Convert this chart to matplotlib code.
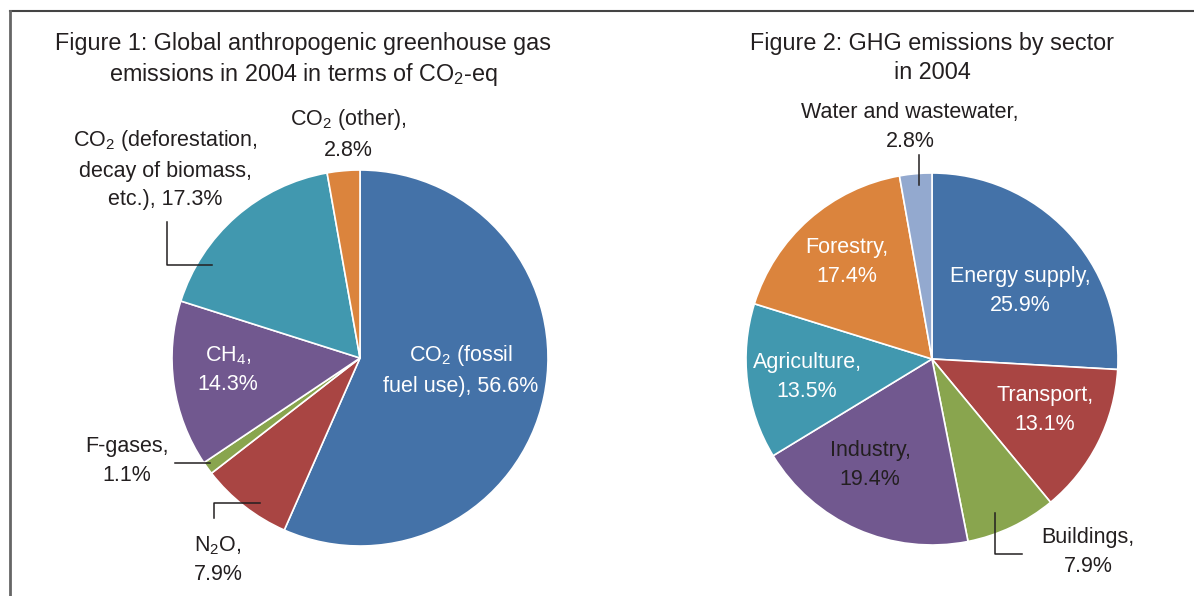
import matplotlib.pyplot as plt
from matplotlib.lines import Line2D

plt.rcParams["font.family"] = ["Liberation Sans", "DejaVu Sans"]
plt.rcParams["mathtext.fontset"] = "custom"
plt.rcParams["mathtext.rm"] = "Liberation Sans"
plt.rcParams["mathtext.default"] = "regular"

# Figure 1 data: gases
gas_names = ["CO$_2$ (fossil\nfuel use)", "N$_2$O", "F-gases", "CH$_4$",
             "CO$_2$ (deforestation,\ndecay of biomass,\netc.)", "CO$_2$ (other)"]
gas_values = [56.6, 7.9, 1.1, 14.3, 17.3, 2.8]
gas_colors = ["#4472a8", "#a94543", "#89a54e", "#71588f", "#4198af", "#db843d"]

# Figure 2 data: sectors
sector_names = ["Energy supply", "Transport", "Buildings", "Industry",
                "Agriculture", "Forestry", "Water and wastewater"]
sector_values = [25.9, 13.1, 7.9, 19.4, 13.5, 17.4, 2.8]
sector_colors = ["#4472a8", "#a94543", "#89a54e", "#71588f", "#4198af", "#db843d", "#93a9cf"]

W, H = 1194, 596
TXT = "#231f20"
FS = 15.5


def py(y):
    # pixel row (from top) -> data y
    return H - y


def label(ax, x, y, s, color=TXT, fs=FS, ls=1.45):
    ax.text(x, py(y), s, ha="center", va="center", fontsize=fs, color=color,
            linespacing=ls, multialignment="center")


def leader(ax, xs, ys):
    ax.add_line(Line2D(xs, [py(v) for v in ys], color="#231f20", lw=1.1))


def main():
    fig = plt.figure(figsize=(W / 100, H / 100), dpi=100)
    ax = fig.add_axes([0, 0, 1, 1])

    wp = dict(edgecolor="white", linewidth=1.2)
    ax.pie(gas_values, colors=gas_colors, startangle=90, counterclock=False,
           center=(360, py(358)), radius=188, wedgeprops=wp, frame=True)
    ax.pie(sector_values, colors=sector_colors, startangle=90, counterclock=False,
           center=(932, py(359)), radius=186, wedgeprops=wp, frame=True)

    ax.set_xlim(0, W)
    ax.set_ylim(0, H)
    ax.set_aspect("auto")
    ax.axis("off")

    # frame
    ax.add_line(Line2D([10, W], [py(11), py(11)], color="#444444", lw=1.5))
    ax.add_line(Line2D([10, 10], [py(11), 0], color="#666666", lw=2))

    # titles
    label(ax, 303, 60, "Figure 1: Global anthropogenic greenhouse gas\n"
                       "emissions in 2004 in terms of CO$_2$-eq", fs=16.8, ls=1.28)
    label(ax, 932, 58, "Figure 2: GHG emissions by sector\nin 2004", fs=16.8, ls=1.3)

    # figure 1 labels
    g = [f"{n}, {v}%" if i in (0, 4) else f"{n},\n{v}%"
         for i, (n, v) in enumerate(zip(gas_names, gas_values))]
    label(ax, 461, 370, g[0], "white")
    label(ax, 218, 560, g[1])
    label(ax, 127, 461, g[2])
    label(ax, 228, 370, g[3], "white")
    label(ax, 165, 169, g[4])
    label(ax, 348, 134, g[5])

    leader(ax, [167, 167, 212], [222, 265, 265])
    leader(ax, [175, 210], [463, 463])
    leader(ax, [214, 214, 260], [518, 503, 503])

    # figure 2 labels
    s = [f"{n},\n{v}%" for n, v in zip(sector_names, sector_values)]
    label(ax, 1020, 291, s[0], "white")
    label(ax, 1045, 410, s[1], "white")
    label(ax, 1088, 552, s[2])
    label(ax, 870, 465, s[3])
    label(ax, 807, 377, s[4], "white")
    label(ax, 847, 262, s[5], "white")
    label(ax, 910, 127, s[6])

    leader(ax, [919, 919], [155, 185])
    leader(ax, [995, 995, 1022], [513, 554, 554])

    fig.savefig("out.png", dpi=100)
    plt.close(fig)


if __name__ == "__main__":
    main()
